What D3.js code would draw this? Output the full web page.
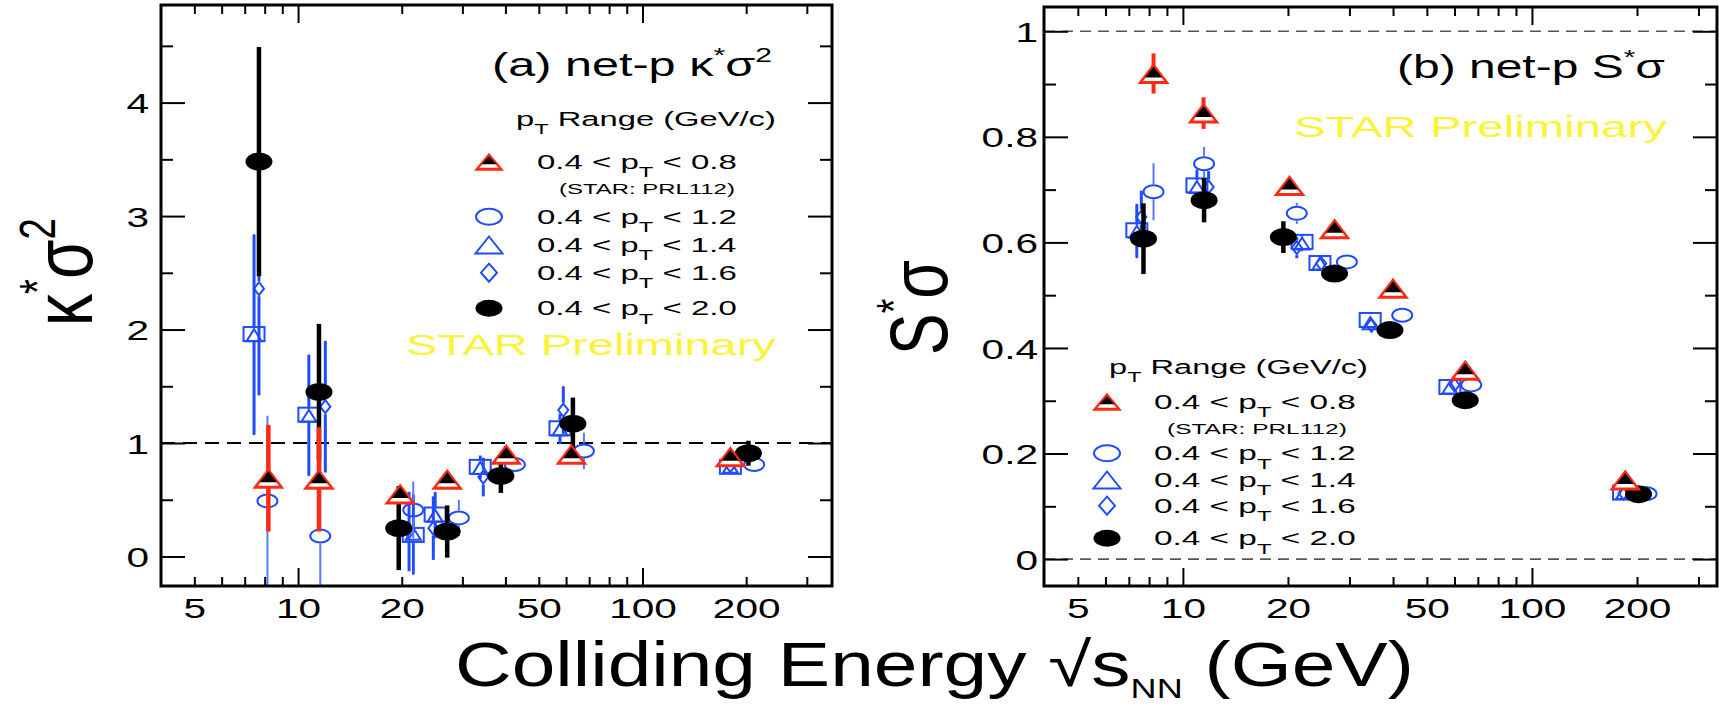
<!DOCTYPE html>
<html>
<head>
<meta charset="utf-8">
<script src="https://cdn.jsdelivr.net/npm/d3@7"></script>
<style>
  body { margin: 0; background: #fff; }
  text { font-family: "Liberation Sans", Arial, Helvetica, sans-serif; }
</style>
</head>
<body>
<svg id="chart" width="1719" height="706"></svg>
<script>
// Beam-energy scan points (GeV)
const energies = [7.7, 11.5, 19.6, 27, 39, 62.4, 200];

// x tick values and labels
const xMinorTicks = [5, 6, 7, 8, 9, 20, 30, 40, 50, 60, 70, 80, 90, 200, 300];
const xMajorTicks = [10, 100];
const xTickLabels = [5, 10, 20, 50, 100, 200];

// y ticks of panel (a) and panel (b)
const yMajorA = [0, 1, 2, 3, 4];
const yMinorA = [0.5, 1.5, 2.5, 3.5, 4.5];
const yMajorB = [0, 0.2, 0.4, 0.6, 0.8, 1];
const yMinorB = [0.1, 0.3, 0.5, 0.7, 0.9];

// ---- panel (a): net-proton kappa*sigma^2 ----
// plotted energies are staggered a little per pT window
const kapX08 = [8.2, 11.5, 19.8, 27.1, 40.2, 62.2, 180];
const kapY08 = [0.69, 0.68, 0.55, 0.68, 0.90, 0.90, 0.88];
const kapE08 = [0.47, 0.46, 0.06, 0.05, 0.04, 0.05, 0.04];

const kapX10 = [7.45, 10.75, 21.6, 25.0, 33.8, 57.6, 180];
const kapY10 = [1.96, 1.25, 0.19, 0.37, 0.79, 1.13, 0.79];
const kapE10 = [0.88, 0.53, 0.35, 0.20, 0.10, 0.13, 0.04];

const kapX12 = [8.15, 11.6, 21.6, 29.3, 42.6, 67.6, 211];
const kapY12 = [0.49, 0.18, 0.41, 0.34, 0.81, 0.93, 0.81];
const kapE12 = [0.75, 0.80, 0.25, 0.16, 0.05, 0.16, 0.04];

const kapX14 = [7.45, 10.75, 21.6, 25.0, 33.8, 57.6, 180];
const kapY14 = [1.95, 1.24, 0.20, 0.36, 0.78, 1.12, 0.79];
const kapE14 = [0.88, 0.53, 0.35, 0.20, 0.10, 0.13, 0.04];

const kapX16 = [7.7, 12.0, 21.0, 24.7, 34.5, 58.9, 180];
const kapY16 = [2.36, 1.32, 0.22, 0.25, 0.70, 1.29, 0.80];
const kapE16 = [0.94, 0.58, 0.35, 0.28, 0.17, 0.21, 0.05];

const kapX20 = [7.7, 11.5, 19.6, 27.1, 38.8, 62.8, 203];
const kapY20 = [3.48, 1.45, 0.25, 0.22, 0.71, 1.17, 0.91];
const kapE20 = [1.01, 0.60, 0.37, 0.23, 0.15, 0.23, 0.11];

// ---- panel (b): net-proton S*sigma ----
const skwX08 = [8.24, 11.46, 20.2, 27.2, 40.0, 64.4, 185];
const skwY08 = [0.920, 0.845, 0.708, 0.626, 0.513, 0.358, 0.150];
const skwE08 = [0.038, 0.030, 0.010, 0.010, 0.010, 0.010, 0.005];

const skwX10 = [7.38, 10.97, 21.95, 24.7, 34.4, 58.2, 183];
const skwY10 = [0.623, 0.708, 0.601, 0.561, 0.453, 0.326, 0.126];
const skwE10 = [0.050, 0.030, 0.015, 0.010, 0.010, 0.008, 0.003];

const skwX12 = [8.24, 11.5, 21.2, 29.5, 42.5, 67.0, 213];
const skwY12 = [0.696, 0.749, 0.655, 0.563, 0.462, 0.330, 0.124];
const skwE12 = [0.054, 0.032, 0.020, 0.010, 0.010, 0.008, 0.003];

const skwX14 = [7.38, 10.97, 21.95, 24.7, 34.4, 58.2, 183];
const skwY14 = [0.620, 0.705, 0.598, 0.560, 0.447, 0.325, 0.125];
const skwE14 = [0.050, 0.030, 0.015, 0.010, 0.010, 0.008, 0.003];

const skwX16 = [7.6, 11.85, 21.2, 24.9, 34.7, 60.0, 183];
const skwY16 = [0.648, 0.705, 0.590, 0.560, 0.443, 0.330, 0.125];
const skwE16 = [0.050, 0.030, 0.020, 0.010, 0.010, 0.008, 0.003];

const skwX20 = [7.71, 11.5, 19.4, 27.2, 39.2, 64.4, 202];
const skwY20 = [0.607, 0.680, 0.610, 0.541, 0.434, 0.301, 0.123];
const skwE20 = [0.067, 0.042, 0.030, 0.010, 0.010, 0.005, 0.003];

// legend labels (upper pT edge of each acceptance window)
const legendUpper = ["0.8", "1.2", "1.4", "1.6", "2.0"];

// ------------------------------------------------------------------
const W = 1719, H = 706;
const SX = 1.45;               // horizontal stretch of the lettering
const BLUE = "#1f4cff", LBLUE = "#5a78ff", RED = "#ff2a14", YELLOW = "#fbf23a";

const svg = d3.select("#chart");
svg.append("rect").attr("width", W).attr("height", H).attr("fill", "#fff");

// marker shapes: screen-pixel width/height
const SHAPES = {
  tri8: { w: 32, h: 21 }, dot: { w: 27, h: 18 }, circ: { w: 20, h: 13 },
  sq: { w: 21, h: 14 }, otri: { w: 15, h: 12 }, dia: { w: 10, h: 13 }
};
const LEGEND_SHAPES = {
  tri8: { w: 30, h: 18 }, dot: { w: 27, h: 17 }, circ: { w: 26, h: 16 },
  otri: { w: 27, h: 17 }, dia: { w: 16, h: 18 }
};

function triPath(cx, cy, w, h) {
  return `M${cx},${cy - h / 2}L${cx + w / 2},${cy + h / 2}L${cx - w / 2},${cy + h / 2}Z`;
}

function drawMarker(g, type, cx, cy, size) {
  const { w, h } = size;
  if (type === "dot") {
    g.append("ellipse").attr("cx", cx).attr("cy", cy).attr("rx", w / 2).attr("ry", h / 2).attr("fill", "#000");
  } else if (type === "tri8") {
    g.append("path").attr("d", triPath(cx, cy, w, h)).attr("fill", RED);
    g.append("path").attr("d", triPath(cx, cy + 0.5, w - 11, h - 7)).attr("fill", "#fff");
    g.append("path").attr("d", triPath(cx, cy - 1.5, w - 15, h - 10)).attr("fill", "#000");
  } else if (type === "circ") {
    g.append("ellipse").attr("cx", cx).attr("cy", cy).attr("rx", w / 2).attr("ry", h / 2)
      .attr("fill", "none").attr("stroke", BLUE).attr("stroke-width", 2);
  } else if (type === "sq") {
    g.append("rect").attr("x", cx - w / 2).attr("y", cy - h / 2).attr("width", w).attr("height", h)
      .attr("fill", "none").attr("stroke", BLUE).attr("stroke-width", 2);
  } else if (type === "otri") {
    g.append("path").attr("d", triPath(cx, cy, w, h))
      .attr("fill", "none").attr("stroke", BLUE).attr("stroke-width", 2);
  } else if (type === "dia") {
    g.append("path").attr("d", `M${cx},${cy - h / 2}L${cx + w / 2},${cy}L${cx},${cy + h / 2}L${cx - w / 2},${cy}Z`)
      .attr("fill", "none").attr("stroke", BLUE).attr("stroke-width", 2);
  }
}

// rich text: parts are strings or [text, "sup"|"sub", shiftEm, sizeFrac]
function addParts(t, parts, fs) {
  let shift = 0;
  parts.forEach(p => {
    const arr = typeof p === "string" ? [p, null] : p;
    const kind = arr[1];
    const target = kind === "sup" ? -(arr[2] || 0.42) * fs : kind === "sub" ? (arr[2] || 0.32) * fs : 0;
    t.append("tspan").attr("dy", target - shift)
      .attr("font-size", kind ? fs * (arr[3] || 0.62) : fs).text(arr[0]);
    shift = target;
  });
}

// text starting at x0 on a baseline, squeezed/stretched to a given width
function fittedText(parent, x0, baseline, width, fs, parts, fill) {
  const g = parent.append("g");
  const t = g.append("text").attr("font-size", fs).attr("fill", fill || "#000");
  addParts(t, parts, fs);
  const bb = t.node().getBBox();
  const k = width / bb.width;
  t.attr("x", -bb.x);
  g.attr("transform", `translate(${x0},${baseline}) scale(${k},1)`);
  return g;
}

// rotated axis title: baseline at bx, running upward from y0 to y1
function verticalTitle(parent, bx, y0, y1, thick, parts) {
  const g = parent.append("g");
  const t = g.append("text").attr("font-size", 60);
  addParts(t, parts, 60);
  let bb = t.node().getBBox();
  const fs = 60 * (y0 - y1) / bb.width;
  t.remove();
  const t2 = g.append("text").attr("font-size", fs);
  addParts(t2, parts, fs);
  bb = t2.node().getBBox();
  t2.attr("x", -bb.x);
  g.attr("transform", `translate(${bx},${y0}) scale(${thick},1) rotate(-90)`);
}

const panels = [
  {
    key: "a",
    x: d3.scaleLog().domain([4, 355]).range([161, 832]),
    y: d3.scaleLinear().domain([-0.26, 4.86]).range([586, 5]),
    yMajor: yMajorA, yMinor: yMinorA, yFmt: d3.format("d"), labelGap: 12,
    refs: [1], refColor: "#000", refWidth: 2, refDash: "14,8",
    series: [
      { type: "sq",   xs: kapX10, ys: kapY10, es: kapE10, color: BLUE,  lw: 2.6 },
      { type: "otri", xs: kapX14, ys: kapY14, es: kapE14, color: BLUE,  lw: 2.6 },
      { type: "dia",  xs: kapX16, ys: kapY16, es: kapE16, color: BLUE,  lw: 3 },
      { type: "circ", xs: kapX12, ys: kapY12, es: kapE12, color: LBLUE, lw: 2 },
      { type: "dot",  xs: kapX20, ys: kapY20, es: kapE20, color: "#000", lw: 4.5 },
      { type: "tri8", xs: kapX08, ys: kapY08, es: kapE08, color: RED,   lw: 4.5 }
    ],
    title: { x: 492, y: 76, w: 280, parts: ["(a) net-p κ", ["*", "sup"], "σ", ["2", "sup"]] },
    star: { x: 406, y: 355, w: 370 },
    legend: { head: { x: 516, y: 126, w: 260 }, mx: 489, tx: 537, tw: 200,
              rows: [161.7, 216.7, 245, 272.7, 308.3], prl: { x: 559, y: 194, w: 176 } },
    ytitle: { bx: 92, y0: 326, y1: 218, thick: 1.3,
              parts: ["κ", ["*", "sup", 0.45, 0.6], "σ", ["2", "sup", 0.45, 0.6]] }
  },
  {
    key: "b",
    x: d3.scaleLog().domain([4, 339]).range([1044, 1717]),
    y: d3.scaleLinear().domain([-0.051, 1.046]).range([586, 7]),
    yMajor: yMajorB, yMinor: yMinorB, yFmt: d => (d === 0 || d === 1) ? String(d) : d3.format(".1f")(d), labelGap: 6,
    refs: [0, 1], refColor: "#555", refWidth: 1.6, refDash: "11,7",
    series: [
      { type: "sq",   xs: skwX10, ys: skwY10, es: skwE10, color: BLUE,  lw: 2.6 },
      { type: "otri", xs: skwX14, ys: skwY14, es: skwE14, color: BLUE,  lw: 2.6 },
      { type: "dia",  xs: skwX16, ys: skwY16, es: skwE16, color: BLUE,  lw: 3 },
      { type: "circ", xs: skwX12, ys: skwY12, es: skwE12, color: LBLUE, lw: 2 },
      { type: "dot",  xs: skwX20, ys: skwY20, es: skwE20, color: "#000", lw: 4.5 },
      { type: "tri8", xs: skwX08, ys: skwY08, es: skwE08, color: RED,   lw: 4 }
    ],
    title: { x: 1397, y: 78, w: 268, parts: ["(b) net-p S", ["*", "sup"], "σ"] },
    star: { x: 1294, y: 137, w: 373 },
    legend: { head: { x: 1109, y: 374, w: 259 }, mx: 1107, tx: 1154, tw: 202,
              rows: [401.7, 453.3, 480, 505.7, 538.3], prl: { x: 1167, y: 434, w: 180 } },
    ytitle: { bx: 947, y0: 355, y1: 260, thick: 1.3, parts: ["S", ["*", "sup", 0.45, 0.6], "σ"] }
  }
];

const legendTypes = ["tri8", "circ", "otri", "dia", "dot"];

panels.forEach(p => {
  const g = svg.append("g");
  const [xa, xb] = p.x.range();
  const [yb, ya] = p.y.range();
  const strip = s => s.select(".domain").remove();
  const ticks = s => s.selectAll("line").attr("stroke", "#000").attr("stroke-width", 2);

  // reference lines
  p.refs.forEach(v => {
    g.append("line").attr("x1", xa).attr("x2", xb).attr("y1", p.y(v)).attr("y2", p.y(v))
      .attr("stroke", p.refColor).attr("stroke-width", p.refWidth).attr("stroke-dasharray", p.refDash);
  });

  // x ticks on bottom and top edges
  [[d3.axisBottom, yb], [d3.axisTop, ya]].forEach(([ax, yy]) => {
    [[xMinorTicks, 9], [xMajorTicks, 18]].forEach(([vals, len]) => {
      g.append("g").attr("transform", `translate(0,${yy})`)
        .call(ax(p.x).tickValues(vals).tickSize(-len).tickFormat(""))
        .call(strip).call(ticks);
    });
  });
  // y ticks on left and right edges
  [[d3.axisLeft, xa], [d3.axisRight, xb]].forEach(([ax, xx]) => {
    [[p.yMinor, 12], [p.yMajor, 24]].forEach(([vals, len]) => {
      g.append("g").attr("transform", `translate(${xx},0)`)
        .call(ax(p.y).tickValues(vals).tickSize(-len).tickFormat(""))
        .call(strip).call(ticks);
    });
  });

  // tick labels
  const xl = g.append("g").attr("transform", `translate(0,${yb})`)
    .call(d3.axisBottom(p.x).tickValues(xTickLabels).tickSize(0).tickFormat(d3.format("d")))
    .call(strip)
    .attr("font-size", 28).attr("font-family", null);
  xl.selectAll("text").attr("y", 32).attr("dy", null).attr("fill", "#000")
    .attr("transform", `scale(${SX},1)`);

  const yl = g.append("g").attr("transform", `translate(${xa},0)`)
    .call(d3.axisLeft(p.y).tickValues(p.yMajor).tickSize(0).tickFormat(p.yFmt))
    .call(strip)
    .attr("font-size", 28).attr("font-family", null);
  yl.selectAll("text").attr("x", -p.labelGap / SX).attr("dy", "0.36em").attr("fill", "#000")
    .attr("transform", `scale(${SX},1)`);

  // data
  const clipId = "clip-" + p.key;
  svg.append("clipPath").attr("id", clipId)
    .append("rect").attr("x", xa).attr("y", ya).attr("width", xb - xa).attr("height", yb - ya);
  const dg = g.append("g").attr("clip-path", `url(#${clipId})`);

  p.series.forEach(s => {
    const sz = SHAPES[s.type];
    const open = ["circ", "sq", "otri", "dia"].includes(s.type);
    const sg = dg.append("g");
    s.ys.forEach((v, i) => {
      const cx = p.x(s.xs[i]);
      const cy = p.y(v);
      const top = p.y(v + s.es[i]);
      const bot = p.y(v - s.es[i]);
      const gap = open ? sz.h / 2 + 1 : 0;
      if (cy - gap > top) {
        sg.append("line").attr("x1", cx).attr("x2", cx).attr("y1", top).attr("y2", cy - gap)
          .attr("stroke", s.color).attr("stroke-width", s.lw);
      }
      if (bot > cy + gap) {
        sg.append("line").attr("x1", cx).attr("x2", cx).attr("y1", cy + gap).attr("y2", bot)
          .attr("stroke", s.color).attr("stroke-width", s.lw);
      }
      drawMarker(sg, s.type, cx, cy, sz);
    });
  });

  // frame
  g.append("rect").attr("x", xa).attr("y", ya).attr("width", xb - xa).attr("height", yb - ya)
    .attr("fill", "none").attr("stroke", "#000").attr("stroke-width", 3);

  // panel label and preliminary tag
  fittedText(g, p.title.x, p.title.y, p.title.w, 33, p.title.parts);
  fittedText(g, p.star.x, p.star.y, p.star.w, 30, ["STAR Preliminary"], YELLOW);

  // legend
  const L = p.legend;
  fittedText(g, L.head.x, L.head.y, L.head.w, 21, ["p", ["T", "sub", 0.4, 0.72], " Range (GeV/c)"]);
  legendTypes.forEach((type, i) => {
    const ry = L.rows[i];
    drawMarker(g, type, L.mx, ry, LEGEND_SHAPES[type]);
    fittedText(g, L.tx, ry + 7, L.tw, 21,
      ["0.4 < p", ["T", "sub", 0.4, 0.72], " < " + legendUpper[i]]);
  });
  fittedText(g, L.prl.x, L.prl.y, L.prl.w, 14, ["(STAR: PRL112)"]);

  // y title
  verticalTitle(g, p.ytitle.bx, p.ytitle.y0, p.ytitle.y1, p.ytitle.thick, p.ytitle.parts);
});

// shared x title
fittedText(svg, 455, 686, 959, 62,
  ["Colliding Energy √s", ["NN", "sub", 0.2, 0.46], " (GeV)"]);
</script>
</body>
</html>
